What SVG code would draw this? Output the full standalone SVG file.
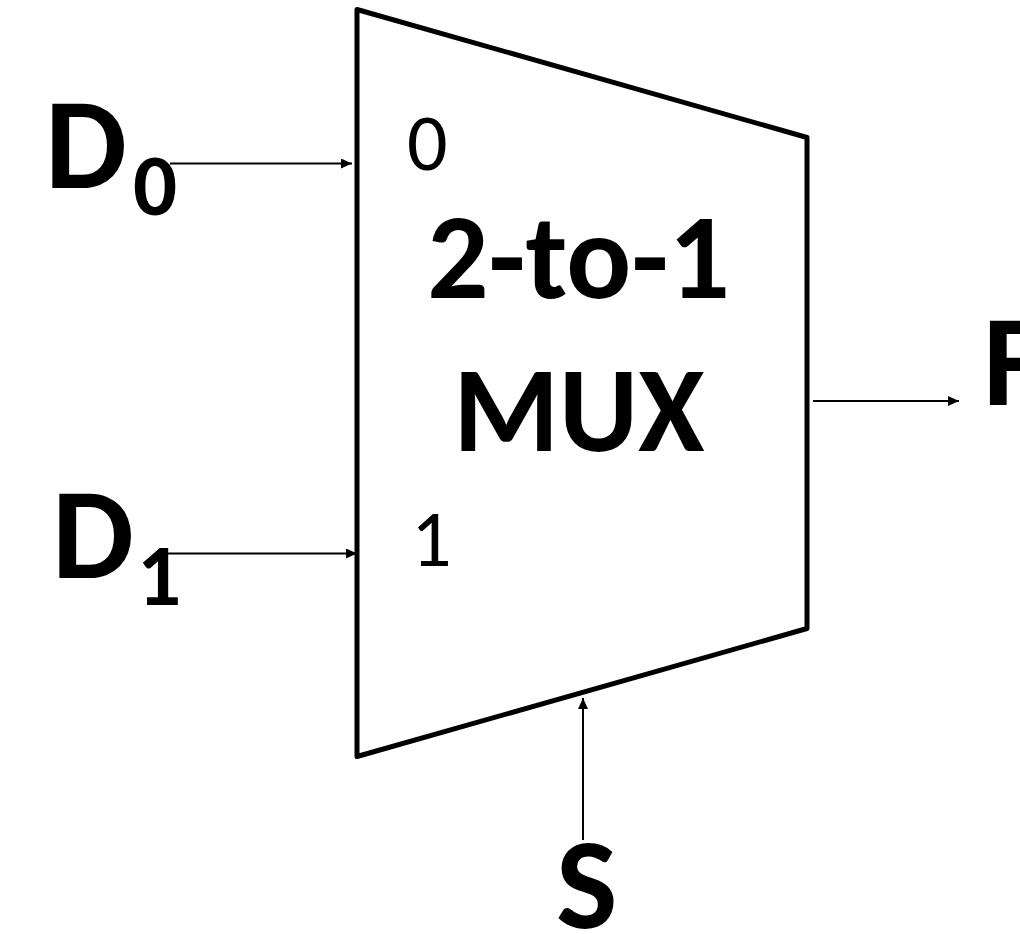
<svg xmlns="http://www.w3.org/2000/svg" width="1020" height="934" viewBox="0 0 1020 934">
<style>
text{font-family:"Carlito","Lato","Liberation Sans",sans-serif;fill:#000}
.big{font-size:130px;font-weight:700}
.sub{font-size:87px;font-weight:700}
.mid{font-size:121px;font-weight:700;text-anchor:middle}
.n{font-size:80px;font-weight:400}
.c{stroke:#000;stroke-width:2;fill:none;marker-end:url(#a)}
</style>
<defs><marker id="a" markerUnits="userSpaceOnUse" markerWidth="12" markerHeight="10" refX="11" refY="5" orient="auto"><path d="M0 0L11 5L0 10Z" fill="#000"/></marker></defs>
<rect width="1020" height="934" fill="#fff"/>
<g id="mux"><path d="M357 9.500L807 137.500V628.500L357 756.500Z" fill="#fff" stroke="#000" stroke-width="5" stroke-linejoin="round"/>
<text x="407" y="170" class="n">0</text><text x="411" y="566" class="n">1</text>
<text x="578.500" y="298" class="mid">2-to-1</text><text x="579" y="451" class="mid">MUX</text></g>
<g id="d0"><text x="45" y="188" class="big">D</text><text x="133" y="215" class="sub">0</text></g>
<g id="d1"><text x="52" y="578" class="big">D</text><text x="137" y="605" class="sub">1</text></g>
<g id="f"><text x="983" y="405" class="big">F</text></g>
<g id="s"><text x="556" y="928" class="big">S</text></g>
<g id="connectors">
<path class="c" d="M170 163.500H352"/><path class="c" d="M166 553.500H357"/><path class="c" d="M813 401H959"/><path class="c" d="M583 840V698"/>
</g>
</svg>
